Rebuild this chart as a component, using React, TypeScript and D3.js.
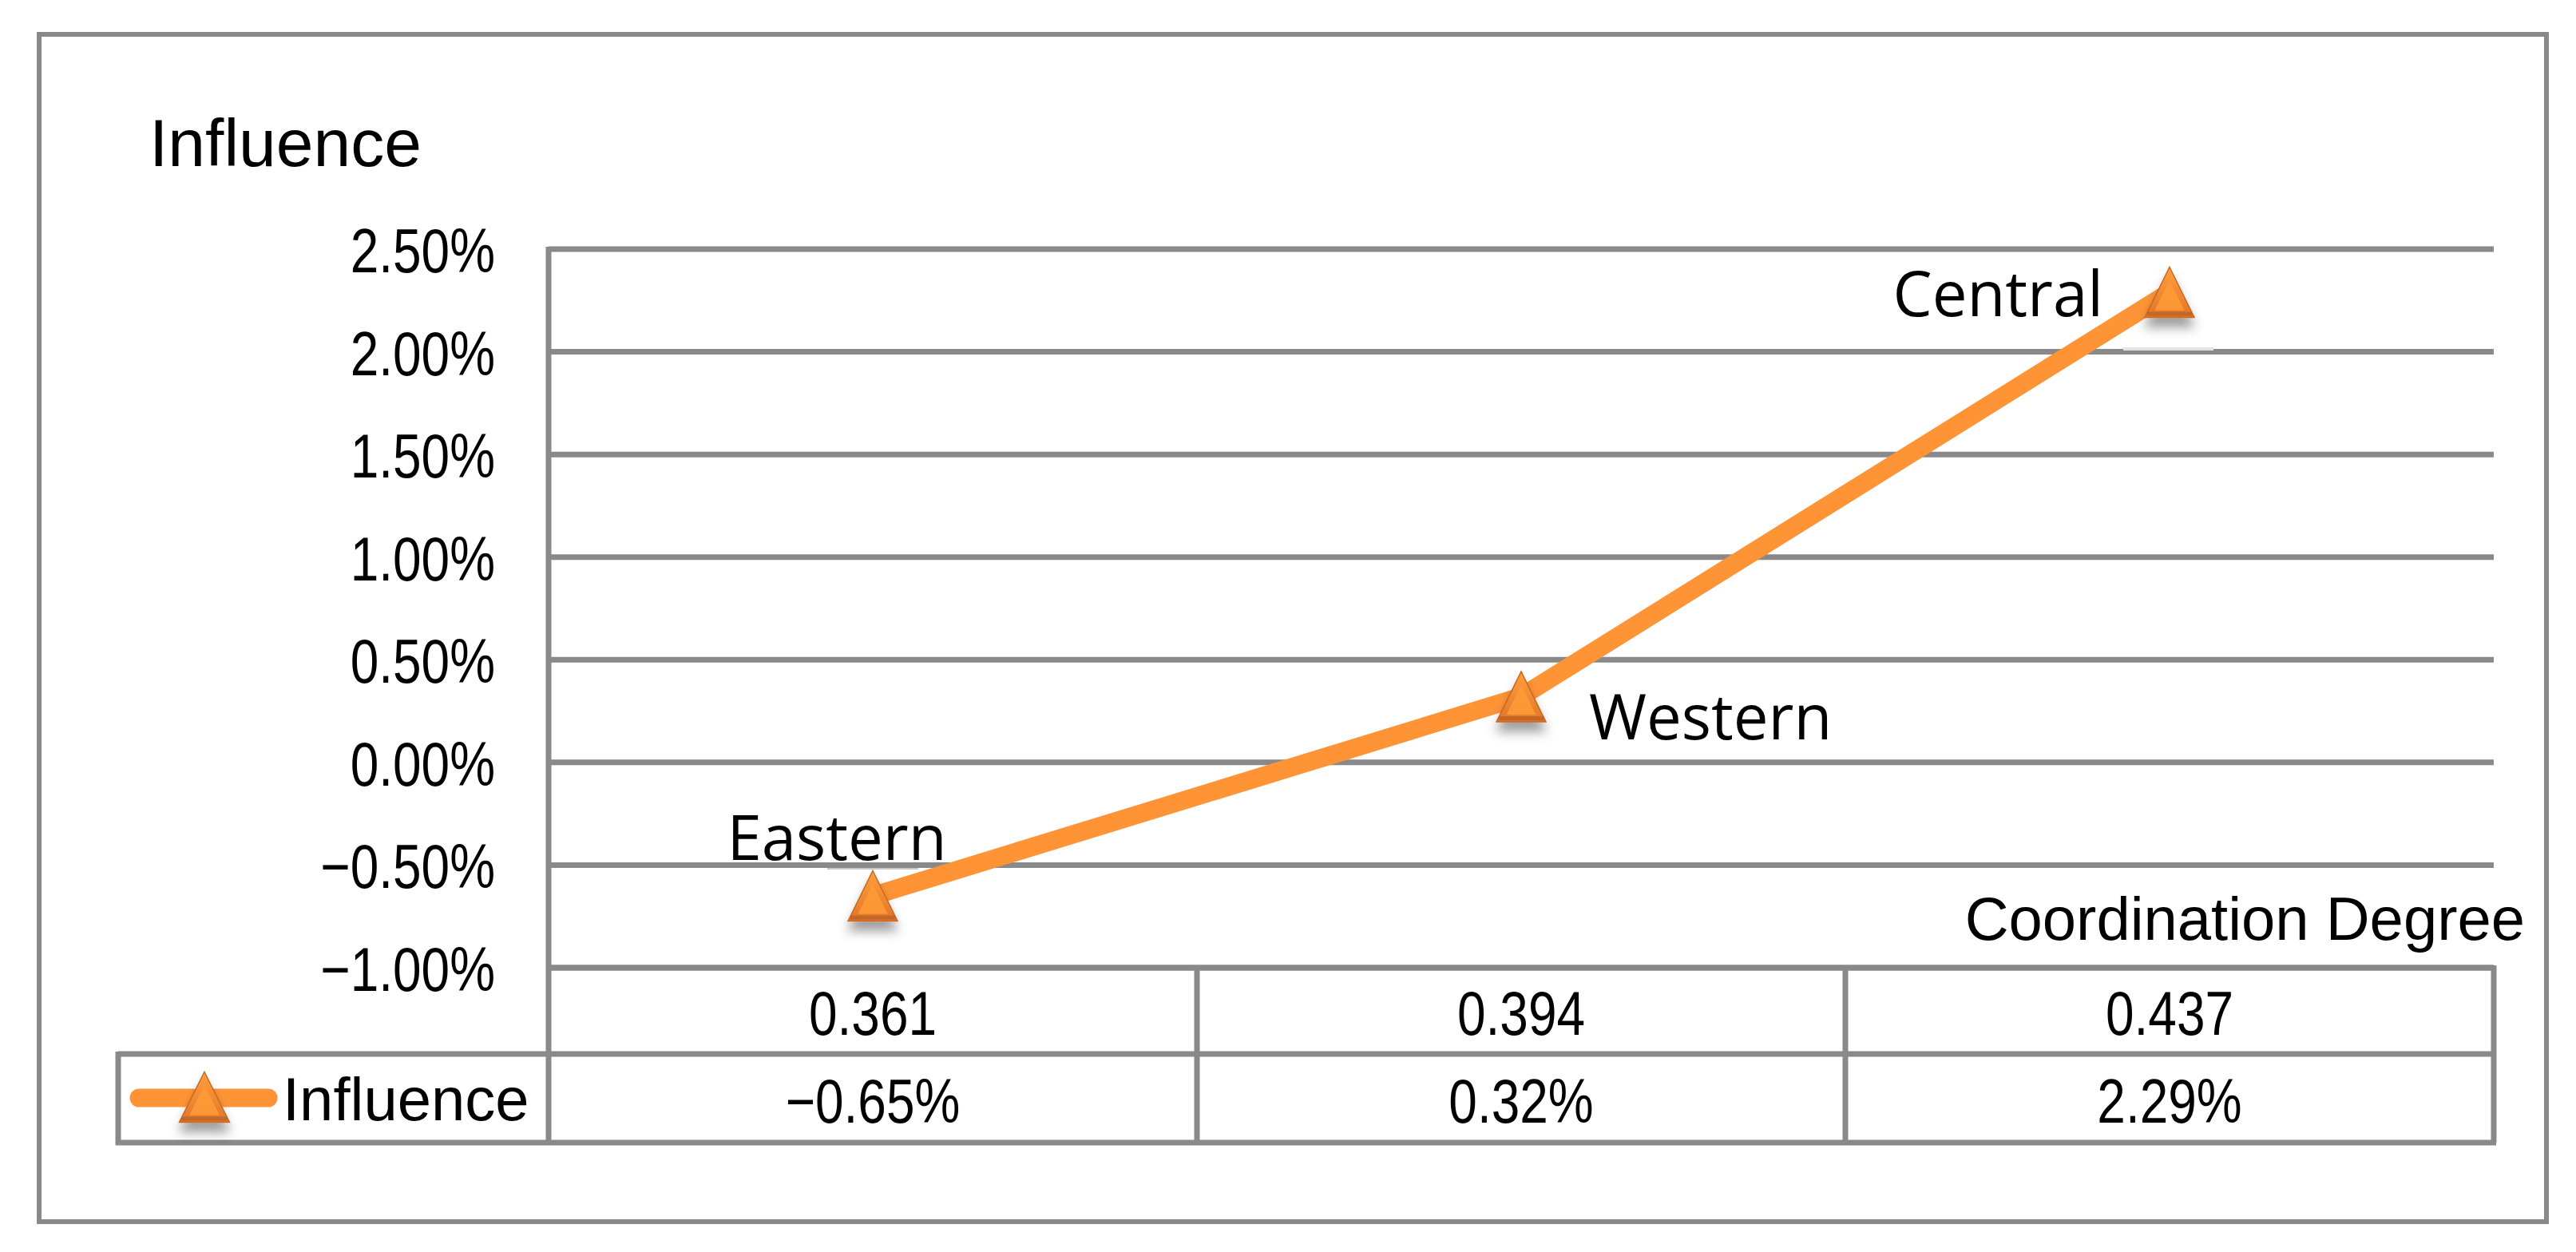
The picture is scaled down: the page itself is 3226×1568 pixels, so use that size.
import React from "react";
import * as d3 from "d3";

// ---------- data ----------
const categories = ["Eastern", "Western", "Central"];
const coordinationDegree = ["0.361", "0.394", "0.437"];
const influence = [-0.65, 0.32, 2.29]; // percent
const yTicks = [2.5, 2.0, 1.5, 1.0, 0.5, 0.0, -0.5, -1.0]; // percent
const seriesName = "Influence";
const yTitle = "Influence";
const xTitle = "Coordination Degree";

// ---------- layout ----------
const W = 3226;
const H = 1568;
const frame = { x0: 49, y0: 43, x1: 3189, y1: 1530 };
const plot = { left: 687, right: 3123, top: 312, bottom: 1212 };
const rowH1 = 108;
const rowH2 = 111;
const legendLeft = 148;
const GRID = "#898989";
const GRID_W = 7;
const ORANGE = "#FF9437";
const WORD_FONT = "'Liberation Sans', Arial, sans-serif";
const LABEL_FONT = "'Open Sans', 'Noto Sans', sans-serif";

// label placement relative to each point: [dx, dy, anchor]
const labelPlacement: [number, number, string][] = [
  [-45, -45, "middle"],
  [85, 53, "start"],
  [-83, 30, "end"],
];

const fmt = d3.format(".2%");

function NumText({ x, y, anchor, children }: { x: number; y: number; anchor: string; children: any }) {
  return (
    <text
      transform={`translate(${x},${y}) scale(0.82,1)`}
      textAnchor={anchor as any}
      fontFamily={WORD_FONT}
      fontSize={78}
      fill="#000"
    >
      {children}
    </text>
  );
}

function Marker({ x, y, w, h }: { x: number; y: number; w: number; h: number }) {
  const outer = `M${x},${y - h / 2} L${x + w / 2},${y + h / 2} L${x - w / 2},${y + h / 2} Z`;
  const iw = w * 0.6;
  const ih = h * 0.6;
  const cy = y + h * 0.06;
  const inner = `M${x},${cy - ih / 2} L${x + iw / 2},${cy + ih / 2} L${x - iw / 2},${cy + ih / 2} Z`;
  return (
    <g filter="url(#shadow)">
      <path d={outer} fill="url(#triGrad)" stroke="#C8681F" strokeWidth={1.5} />
      <path d={inner} fill="#FF9B35" opacity={0.85} />
      <rect x={x - w / 2 + 3} y={y + h / 2 - 7} width={w - 6} height={5} fill="#B5612A" opacity={0.75} />
    </g>
  );
}

export default function App() {
  const x = d3.scaleBand<string>().domain(coordinationDegree).range([plot.left, plot.right]).padding(0);
  const y = d3.scaleLinear().domain([-1, 2.5]).range([plot.bottom, plot.top]);
  const cx = (i: number) => (x(coordinationDegree[i]) as number) + x.bandwidth() / 2;

  const pts: [number, number][] = influence.map((v, i) => [cx(i), y(v)]);
  const line = d3.line()(pts) as string;

  const row1Top = plot.bottom;
  const row2Top = row1Top + rowH1;
  const row2Bot = row2Top + rowH2;

  const colEdges = coordinationDegree.map((c) => x(c) as number).concat([plot.right]);

  return (
    <svg
      width={W}
      height={H}
      viewBox={`0 0 ${W} ${H}`}
      style={{ position: "absolute", left: 0, top: 0, background: "#fff" }}
    >
      <defs>
        <linearGradient id="triGrad" x1="0" y1="0" x2="0" y2="1">
          <stop offset="0%" stopColor="#FFA040" />
          <stop offset="100%" stopColor="#E27428" />
        </linearGradient>
        <filter id="shadow" x="-60%" y="-60%" width="220%" height="240%">
          <feDropShadow dx="0" dy="12" stdDeviation="7" floodColor="#000" floodOpacity="0.38" />
        </filter>
      </defs>
      <rect x={0} y={0} width={W} height={H} fill="#fff" />

      {/* outer frame */}
      <rect
        x={frame.x0}
        y={frame.y0}
        width={frame.x1 - frame.x0}
        height={frame.y1 - frame.y0}
        fill="none"
        stroke={GRID}
        strokeWidth={6}
      />

      {/* y title */}
      <text x={187} y={208} fontFamily={WORD_FONT} fontSize={84} fill="#000">
        {yTitle}
      </text>

      {/* gridlines */}
      {yTicks.map((t) => (
        <line key={t} x1={plot.left} x2={plot.right} y1={y(t)} y2={y(t)} stroke={GRID} strokeWidth={GRID_W} />
      ))}

      {/* y tick labels */}
      {yTicks.map((t) => (
        <NumText key={"l" + t} x={620} y={y(t) + 29} anchor="end">
          {fmt(t / 100)}
        </NumText>
      ))}

      {/* left axis line down through table */}
      <line x1={plot.left} x2={plot.left} y1={plot.top - 3} y2={row2Bot + 3} stroke={GRID} strokeWidth={GRID_W} />

      {/* data table */}
      <line x1={plot.left} x2={plot.right} y1={row1Top} y2={row1Top} stroke={GRID} strokeWidth={GRID_W} />
      <line x1={legendLeft} x2={plot.right} y1={row2Top} y2={row2Top} stroke={GRID} strokeWidth={GRID_W} />
      <line x1={legendLeft - 3} x2={plot.right + 3} y1={row2Bot} y2={row2Bot} stroke={GRID} strokeWidth={GRID_W} />
      <line x1={legendLeft} x2={legendLeft} y1={row2Top - 3} y2={row2Bot + 3} stroke={GRID} strokeWidth={GRID_W} />
      {colEdges.slice(1).map((ex, i) => (
        <line key={"v" + i} x1={ex} x2={ex} y1={row1Top - 3} y2={row2Bot} stroke={GRID} strokeWidth={GRID_W} />
      ))}

      {coordinationDegree.map((c, i) => (
        <NumText key={"c" + c} x={cx(i)} y={row1Top + 84} anchor="middle">
          {c}
        </NumText>
      ))}
      {influence.map((v, i) => (
        <NumText key={"v" + i} x={cx(i)} y={row2Top + 86} anchor="middle">
          {fmt(v / 100)}
        </NumText>
      ))}

      {/* legend key in table */}
      <line x1={174} x2={336} y1={row2Top + 55} y2={row2Top + 55} stroke={ORANGE} strokeWidth={23} strokeLinecap="round" />
      <Marker x={256} y={row2Top + 54} w={63} h={63} />
      <text x={354} y={row2Top + 83} fontFamily={WORD_FONT} fontSize={76}>
        {seriesName}
      </text>

      {/* x title */}
      <text x={3162} y={1177} textAnchor="end" fontFamily={WORD_FONT} fontSize={76}>
        {xTitle}
      </text>

      {/* series line */}
      <path d={line} fill="none" stroke={ORANGE} strokeWidth={23} strokeLinejoin="round" />

      {/* faint label-box remnants */}
      <rect x={pts[0][0] - 57} y={pts[0][1] - 35} width={114} height={2} fill="#c8c8c8" />
      <rect x={pts[2][0] - 58} y={pts[2][1] + 69} width={113} height={4} fill="#e4e4e4" />

      {/* markers */}
      {pts.map(([px, py], i) => (
        <Marker key={"m" + i} x={px} y={py} w={62} h={63} />
      ))}

      {/* data labels */}
      {pts.map(([px, py], i) => (
        <text
          key={"dl" + i}
          x={px + labelPlacement[i][0]}
          y={py + labelPlacement[i][1]}
          textAnchor={labelPlacement[i][2] as any}
          fontFamily={LABEL_FONT}
          fontSize={78}
          fill="#000"
        >
          {categories[i]}
        </text>
      ))}
    </svg>
  );
}
